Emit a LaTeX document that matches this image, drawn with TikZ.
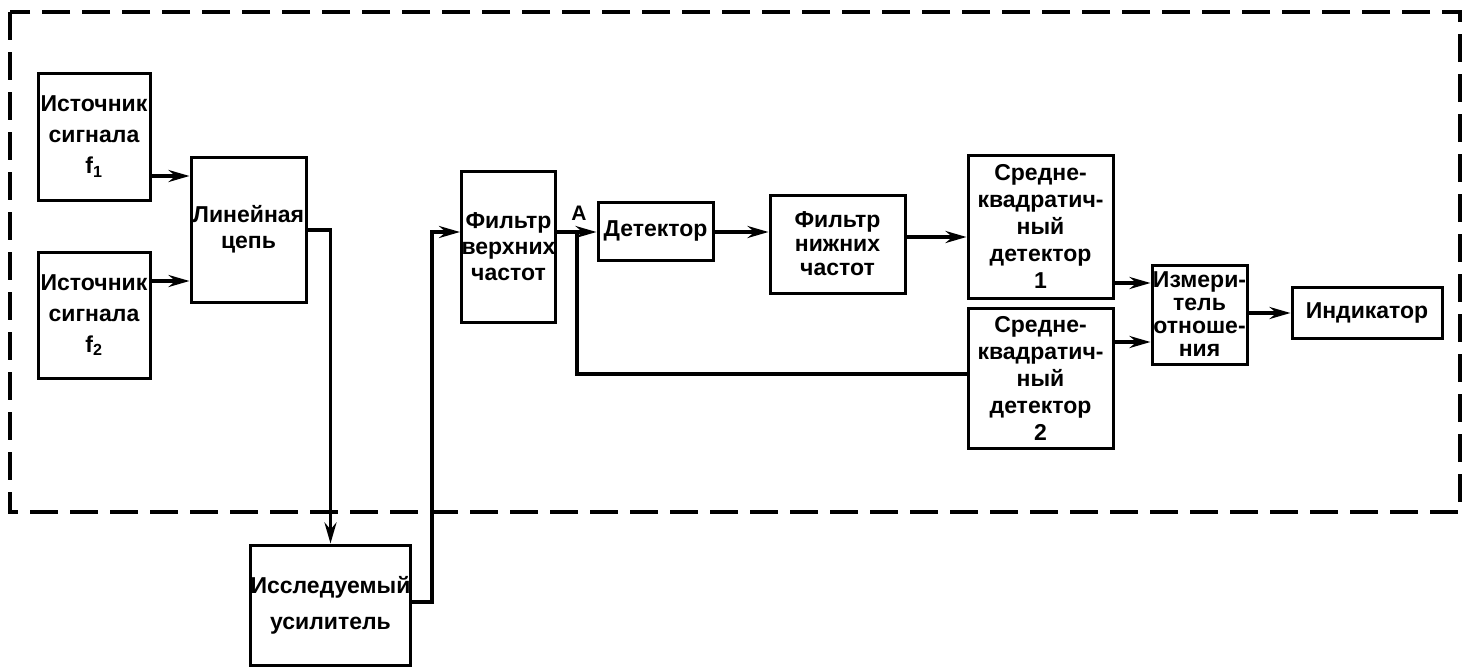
\documentclass[tikz,border=0pt]{standalone}
\usepackage{fontspec}
\setmainfont{Liberation Sans}
\usetikzlibrary{arrows.meta}
\begin{document}
\begin{tikzpicture}[x=1pt,y=-1pt,
  box/.style={draw,line width=3pt,align=center,inner sep=0pt,
    font=\bfseries\fontsize{23}{27}\selectfont},
  arr/.style={line width=3.4pt,-{Stealth[length=21pt,width=12pt,inset=7pt]}},
  wire/.style={line width=3.4pt},
  frame/.style={line width=3.2pt,dash pattern=on 28pt off 12pt}]
\useasboundingbox (0,0) rectangle (1472,670);

% enclosing dashed boundary
\draw[frame] (10,12) rectangle (1460,512);

% blocks
\node[box,minimum width=112pt,minimum height=127pt,
  font=\bfseries\fontsize{23}{31}\selectfont] (src1) at (94,136.5)
  {Источник\\сигнала\\f\textsubscript{1}};
\node[box,minimum width=112pt,minimum height=126pt,
  font=\bfseries\fontsize{23}{31}\selectfont] (src2) at (94,315)
  {Источник\\сигнала\\f\textsubscript{2}};
\node[box,minimum width=115pt,minimum height=145pt,
  font=\bfseries\fontsize{23}{26}\selectfont] (lin) at (248.5,229.5)
  {Линейная\\цепь};
\node[box,minimum width=155pt,minimum height=120pt,
  font=\bfseries\fontsize{23}{36}\selectfont] (amp) at (330.5,605)
  {Исследуемый\\усилитель};
\node[box,minimum width=87pt,minimum height=151pt,
  font=\bfseries\fontsize{23}{26}\selectfont] (hpf) at (508.5,246.5)
  {Фильтр\\верхних\\частот};
\node[box,minimum width=115pt,minimum height=58pt] (det) at (655.5,231)
  {Детектор};
\node[box,minimum width=135pt,minimum height=98pt,
  font=\bfseries\fontsize{23}{24}\selectfont] (lpf) at (837.5,244)
  {Фильтр\\нижних\\частот};
\node[box,minimum width=145pt,minimum height=143pt] (rms1) at (1040.5,226.5)
  {Средне-\\квадратич-\\ный\\детектор\\1};
\node[box,minimum width=145pt,minimum height=140pt] (rms2) at (1040.5,378)
  {Средне-\\квадратич-\\ный\\детектор\\2};
\node[box,minimum width=95pt,minimum height=99pt,
  font=\bfseries\fontsize{23}{23}\selectfont] (ratio) at (1199.5,314.5)
  {Измери-\\тель\\отноше-\\ния};
\node[box,minimum width=150pt,minimum height=51pt] (ind) at (1367,312.5)
  {Индикатор};

% signal levels of the connectors
\coordinate (y1) at (0,176);
\coordinate (y2) at (0,281);
\coordinate (ly) at (0,230);
\coordinate (ay) at (0,602);
\coordinate (hy) at (0,232);
\coordinate (cx) at (432,0);
\coordinate (A) at (577,232);
\coordinate (ry) at (0,374);
\coordinate (my) at (0,237);
\coordinate (r1) at (0,283);
\coordinate (r2) at (0,342);
\coordinate (iy) at (0,313);

\node[font=\bfseries\fontsize{21}{21}\selectfont,inner sep=0pt] (Alab) at (579,213) {A};

\draw[arr] (src1.east |- y1) -- (lin.west |- y1);
\draw[arr] (src2.east |- y2) -- (lin.west |- y2);
\draw[arr] (lin.east |- ly) -| (amp.north);
\draw[arr] (amp.east |- ay) -| (cx |- hy) -- (hpf.west |- hy);
\draw[arr] (hpf.east |- hy) -- (det.west |- hy);
\draw[wire] (A) |- (rms2.west |- ry);
\draw[arr] (det.east |- hy) -- (lpf.west |- hy);
\draw[arr] (lpf.east |- my) -- (rms1.west |- my);
\draw[arr] (rms1.east |- r1) -- (ratio.west |- r1);
\draw[arr] (rms2.east |- r2) -- (ratio.west |- r2);
\draw[arr] (ratio.east |- iy) -- (ind.west |- iy);
\end{tikzpicture}
\end{document}
